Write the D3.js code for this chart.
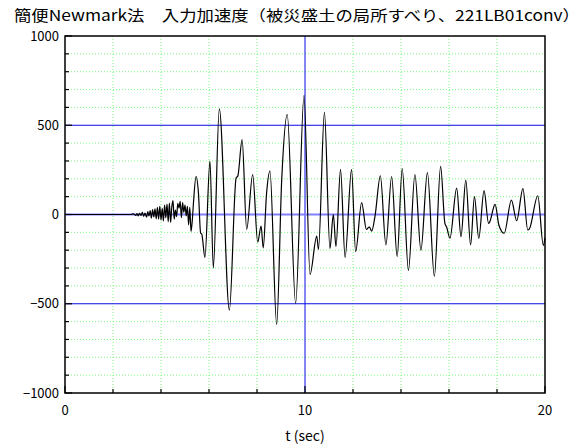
<!DOCTYPE html>
<html><head><meta charset="utf-8">
<script src="https://cdn.jsdelivr.net/npm/d3@7/dist/d3.min.js"></script>
<style>body{margin:0;background:#fff}svg{display:block}text{font-family:"Noto Sans CJK JP","Noto Sans",sans-serif;fill:#000}</style>
</head><body><svg id="c" width="586" height="447"></svg>
<script>
const titleText = "簡便Newmark法　入力加速度（被災盛土の局所すべり、221LB01conv）";
const xLabel = "t (sec)";
const xTicks = [0, 10, 20];
const yTicks = [-1000, -500, 0, 500, 1000];
const times = [0,2.75,2.85,2.95,3.0,3.05,3.1,3.17,3.22,3.28,3.33,3.4,3.45,3.5,3.55,3.6,3.65,3.7,3.75,3.8,3.85,3.9,3.95,4.0,4.05,4.1,4.15,4.2,4.25,4.3,4.35,4.4,4.45,4.5,4.55,4.6,4.65,4.7,4.75,4.8,4.85,4.9,4.95,5.0,5.05,5.1,5.15,5.2,5.25,5.3,5.35,5.46,5.56,5.65,5.7,5.83,6.04,6.18,6.43,6.85,7.13,7.2,7.38,7.57,7.82,8.03,8.17,8.26,8.40,8.54,8.82,9.03,9.26,9.61,9.96,10.21,10.49,10.56,10.81,11.04,11.18,11.29,11.48,11.67,11.94,12.11,12.36,12.56,12.68,12.78,12.92,13.14,13.37,13.61,13.84,14.05,14.31,14.58,14.83,15.10,15.39,15.65,15.83,15.9,16.04,16.32,16.5,16.7,16.9,17.06,17.24,17.46,17.65,17.7,17.92,18.08,18.3,18.6,18.82,19.08,19.28,19.35,19.7,19.93,20];
const accel = [0,0,4,-5,5,-8,6,-5,12,-10,8,-15,16,-8,22,-20,28,-14,32,-24,40,-26,46,-30,34,-36,52,-18,58,-40,64,-44,42,78,-26,24,-12,62,36,74,-18,66,12,52,-8,46,-58,40,-95,-40,60,213,121,-103,-110,-240,299,-299,592,-536,205,215,420,-84,224,-155,-65,-187,121,243,-616,196,560,-498,667,-336,-121,-196,572,-190,0,-180,253,-240,253,-208,66,-84,-69,-93,-6,217,-170,213,-236,257,-313,224,-200,235,-346,270,-50,-70,-132,148,-124,193,-171,100,-134,134,-50,-40,57,-60,-105,80,-35,145,-86,-80,105,-173,-130];

const svg = d3.select("#c");
const L=65,R=545,T=36,B=393;
const x = d3.scaleLinear().domain([0,20]).range([L,R]);
const y = d3.scaleLinear().domain([-1000,1000]).range([B,T]);

// minor grid
const g = svg.append("g");
d3.range(2,20,2).filter(v=>v!==10).forEach(v=>{
  g.append("line").attr("x1",x(v)).attr("x2",x(v)).attr("y1",T).attr("y2",B)
   .attr("stroke","#7cf57c").attr("stroke-dasharray","1,2");
});
d3.range(-900,1000,100).filter(v=>v%500!==0).forEach(v=>{
  g.append("line").attr("x1",L).attr("x2",R).attr("y1",y(v)).attr("y2",y(v))
   .attr("stroke","#7cf57c").attr("stroke-dasharray","1,2");
});
// major grid
[-500,500].forEach(v=>{
  g.append("line").attr("x1",L).attr("x2",R).attr("y1",y(v)).attr("y2",y(v)).attr("stroke","#0a0ae6").attr("stroke-width",1);
});
g.append("line").attr("x1",x(10)).attr("x2",x(10)).attr("y1",T).attr("y2",B).attr("stroke","#0a0ae6").attr("stroke-width",1);
g.append("line").attr("x1",L).attr("x2",R).attr("y1",y(0)).attr("y2",y(0)).attr("stroke","#7f7fff").attr("stroke-width",2);

// data line
const pts = times.map((t,i)=>[t,accel[i]]);
svg.append("path").datum(pts)
  .attr("d", d3.line().x(d=>x(d[0])).y(d=>y(d[1])).curve(d3.curveMonotoneX))
  .attr("fill","none").attr("stroke","#000").attr("stroke-width",1.2);

// frame
svg.append("rect").attr("x",L).attr("y",T).attr("width",R-L).attr("height",B-T)
  .attr("fill","none").attr("stroke","#000").attr("stroke-width",1.5);

// ticks
d3.range(-1000,1001,100).forEach(v=>{
  const len = v%500===0 ? 7 : 4;
  svg.append("line").attr("x1",L).attr("x2",L+len).attr("y1",y(v)).attr("y2",y(v)).attr("stroke","#000").attr("stroke-width",1.2);
});
d3.range(0,21,2).forEach(v=>{
  const len = v%10===0 ? 7 : 4;
  svg.append("line").attr("x1",x(v)).attr("x2",x(v)).attr("y1",B).attr("y2",B-len).attr("stroke","#000").attr("stroke-width",1.2);
});

// tick labels
svg.append("g").selectAll("text").data(yTicks).join("text")
  .attr("x",L-6).attr("y",d=>y(d)+4.5).attr("text-anchor","end").attr("font-size",13)
  .text(d=>d<0 ? "\u2212"+Math.abs(d) : d);
svg.append("g").selectAll("text").data(xTicks).join("text")
  .attr("x",d=>x(d)).attr("y",415).attr("text-anchor","middle").attr("font-size",13)
  .text(d=>d);
svg.append("text").attr("x",305).attr("y",441).attr("text-anchor","middle").attr("font-size",14).text(xLabel);
svg.append("text").attr("x",14).attr("y",21).attr("font-size",15)
  .attr("textLength",566).attr("lengthAdjust","spacingAndGlyphs").text(titleText);
</script></body></html>
